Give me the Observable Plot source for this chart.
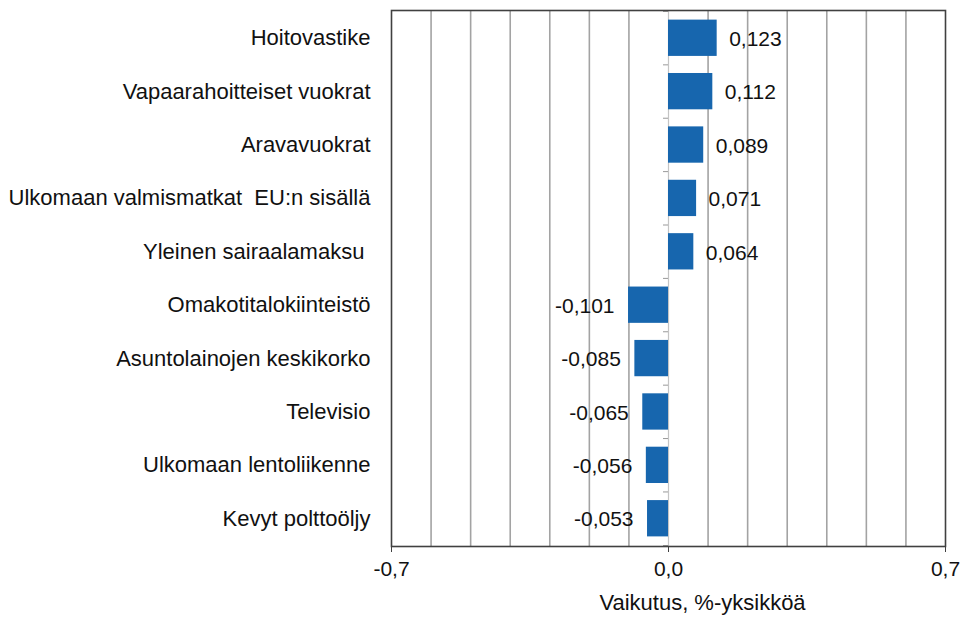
<!DOCTYPE html>
<html>
<head>
<meta charset="utf-8">
<script src="https://cdn.jsdelivr.net/npm/d3@7"></script>
<script src="https://cdn.jsdelivr.net/npm/@observablehq/plot@0.6"></script>
<style>
  body { margin: 0; background: white; }
  svg text { white-space: pre; }
</style>
</head>
<body>
<div id="chart"></div>
<script>
const categories = [
  "Hoitovastike",
  "Vapaarahoitteiset vuokrat",
  "Aravavuokrat",
  "Ulkomaan valmismatkat  EU:n sisällä",
  "Yleinen sairaalamaksu ",
  "Omakotitalokiinteistö",
  "Asuntolainojen keskikorko",
  "Televisio",
  "Ulkomaan lentoliikenne",
  "Kevyt polttoöljy"
];
const values = [0.123, 0.112, 0.089, 0.071, 0.064, -0.101, -0.085, -0.065, -0.056, -0.053];
const xTicks = [-0.7, 0, 0.7];
const gridTicks = [-0.6, -0.5, -0.4, -0.3, -0.2, -0.1, 0.1, 0.2, 0.3, 0.4, 0.5, 0.6];
const xLabel = "Vaikutus, %-yksikköä";

const data = categories.map((c, i) => ({cat: c, value: values[i]}));
const fmt3 = v => d3.format(".3f")(v).replace(".", ",").replace("−", "-");
const fmt1 = v => d3.format(".1f")(v).replace(".", ",").replace("−", "-");

const W = 963, H = 620, mT = 10, mB = 74;
const step = (H - mT - mB) / categories.length;

const chart = Plot.plot({
  width: W,
  height: H,
  marginLeft: 391,
  marginRight: 18,
  marginTop: mT,
  marginBottom: mB,
  x: {domain: [-0.7, 0.7]},
  y: {domain: categories, paddingInner: 0.32, paddingOuter: 0.18, round: false},
  style: {
    fontFamily: "Arial, 'Liberation Sans', sans-serif",
    fontSize: "22px",
    color: "#111",
    background: "white"
  },
  marks: [
    Plot.ruleX(gridTicks, {stroke: "#a3a3a3", strokeWidth: 1.6}),
    Plot.ruleX([0], {stroke: "#c4c4c4", strokeWidth: 1.2}),
    Plot.ruleY(categories, {y: d => d, x1: 0, x2: 0, insetLeft: -5, dy: -step / 2, stroke: "#999"}),
    Plot.ruleY(categories.slice(-1), {y: d => d, x1: 0, x2: 0, insetLeft: -5, dy: step / 2, stroke: "#999"}),
    Plot.barX(data, {x: "value", y: "cat", fill: "#1766ae"}),
    Plot.text(data.filter(d => d.value >= 0), {
      x: "value", y: "cat", text: d => fmt3(d.value),
      textAnchor: "start", dx: 12, dy: 1, fill: "#111", fontSize: 21
    }),
    Plot.text(data.filter(d => d.value < 0), {
      x: "value", y: "cat", text: d => fmt3(d.value),
      textAnchor: "end", dx: -14, dy: 1, fill: "#111", fontSize: 21
    }),
    Plot.frame({stroke: "#404040", strokeWidth: 1.6}),
    Plot.axisX(xTicks, {
      tickFormat: fmt1, tickSize: 6, tickPadding: 9, label: null,
      fontSize: 21, stroke: "#404040"
    }),
    Plot.axisY({tickSize: 0, tickPadding: 21, label: null, fontSize: 22}),
    Plot.text([xLabel], {
      frameAnchor: "bottom", dx: 34, dy: 63, text: d => d,
      fontSize: 22, fill: "#111"
    })
  ]
});
document.getElementById("chart").appendChild(chart);
</script>
</body>
</html>
